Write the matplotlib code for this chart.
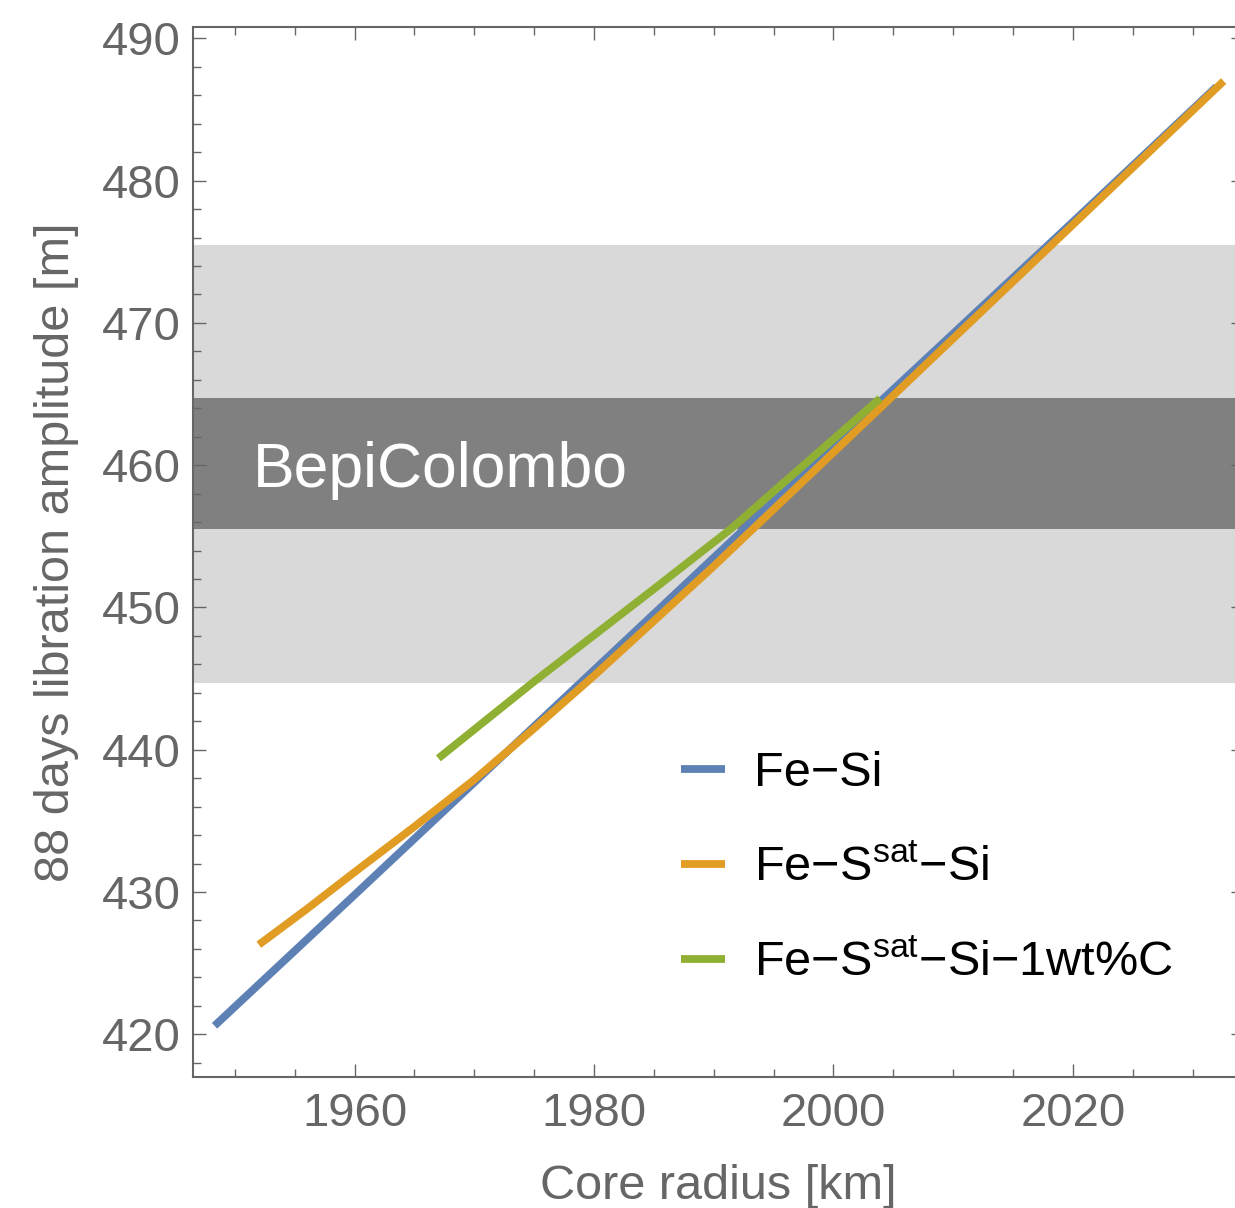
import matplotlib
matplotlib.use("Agg")
import matplotlib.pyplot as plt
from matplotlib.ticker import MultipleLocator

# ---- data ----
fesi_r = [1948.3, 1960, 1980, 2000, 2020, 2032.0]
fesi_a = [420.6, 429.8, 445.6, 461.4, 477.1, 486.6]

fessat_r = [1952.0, 1956, 1960, 1965, 1970, 1975, 1980, 1990, 2000, 2010, 2020, 2032.6]
fessat_a = [426.3, 428.8, 431.4, 434.6, 437.9, 441.5, 445.2, 452.9, 460.9, 468.9, 476.9, 487.0]

fessatc_r = [1967.0, 1975, 1985, 1991.4, 2003.9]
fessatc_a = [439.4, 444.8, 451.3, 455.5, 464.7]

band_outer = (444.7, 475.5)
band_inner = (455.5, 464.7)
band_label = "BepiColombo"

labels = ["Fe\u2212Si", "Fe\u2212S$^{\\mathrm{sat}}$\u2212Si", "Fe\u2212S$^{\\mathrm{sat}}$\u2212Si\u22121wt%C"]
colors = ["#5E81B5", "#E19C24", "#8FB032"]

xlabel = "Core radius [km]"
ylabel = "88 days libration amplitude [m]"

# ---- style ----
plt.rcParams['font.family'] = ['Liberation Sans', 'DejaVu Sans']
plt.rcParams['mathtext.fontset'] = 'custom'
plt.rcParams['mathtext.rm'] = 'Liberation Sans'
plt.rcParams['mathtext.it'] = 'Liberation Sans:italic'
plt.rcParams['mathtext.bf'] = 'Liberation Sans:bold'
plt.rcParams['axes.unicode_minus'] = True

gray = "#666666"
W, H = 1235, 1208
fig = plt.figure(figsize=(W / 100, H / 100), dpi=100)
ax = fig.add_axes([193 / W, 131 / H, (1244 - 193) / W, (1077 - 27) / H])

ax.axhspan(*band_outer, color="#D9D9D9", lw=0, zorder=0)
ax.axhspan(*band_inner, color="#808080", lw=0, zorder=0.5)
ax.text(1951.5, sum(band_inner) / 2, band_label, color="white", fontsize=45,
        ha="left", va="center_baseline", zorder=1)

series = [(fesi_r, fesi_a), (fessat_r, fessat_a), (fessatc_r, fessatc_a)]
for (r, a), lab, c in zip(series, labels, colors):
    ax.plot(r, a, color=c, lw=5.6, label=lab, solid_capstyle="butt", zorder=2)

ax.set_xlim(1946.5, 2034.3)
ax.set_ylim(417.0, 490.8)

ax.xaxis.set_major_locator(MultipleLocator(20))
ax.xaxis.set_minor_locator(MultipleLocator(5))
ax.yaxis.set_major_locator(MultipleLocator(10))
ax.yaxis.set_minor_locator(MultipleLocator(2))

ax.tick_params(which="both", direction="in", top=True, right=True, color=gray,
               width=1.0, labelcolor=gray, labelsize=34)
ax.tick_params(which="major", length=9.5)
ax.tick_params(which="minor", length=6)
ax.tick_params(axis="y", pad=9)
ax.tick_params(axis="x", pad=11)
for s in ax.spines.values():
    s.set_color(gray)
    s.set_linewidth(1.5)

ax.set_xlabel(xlabel, fontsize=35, color=gray, labelpad=20)
ax.set_ylabel(ylabel, fontsize=35, color=gray, labelpad=16)

leg = ax.legend(loc="upper left", bbox_to_anchor=(681 / W, 1 - 751 / H),
                bbox_transform=fig.transFigure, frameon=False, fontsize=35,
                handlelength=0.9, handletextpad=0.6, labelspacing=1.03,
                borderpad=0, borderaxespad=0)
for t in leg.get_texts():
    t.set_color("black")

fig.savefig("out.png", dpi=100)
